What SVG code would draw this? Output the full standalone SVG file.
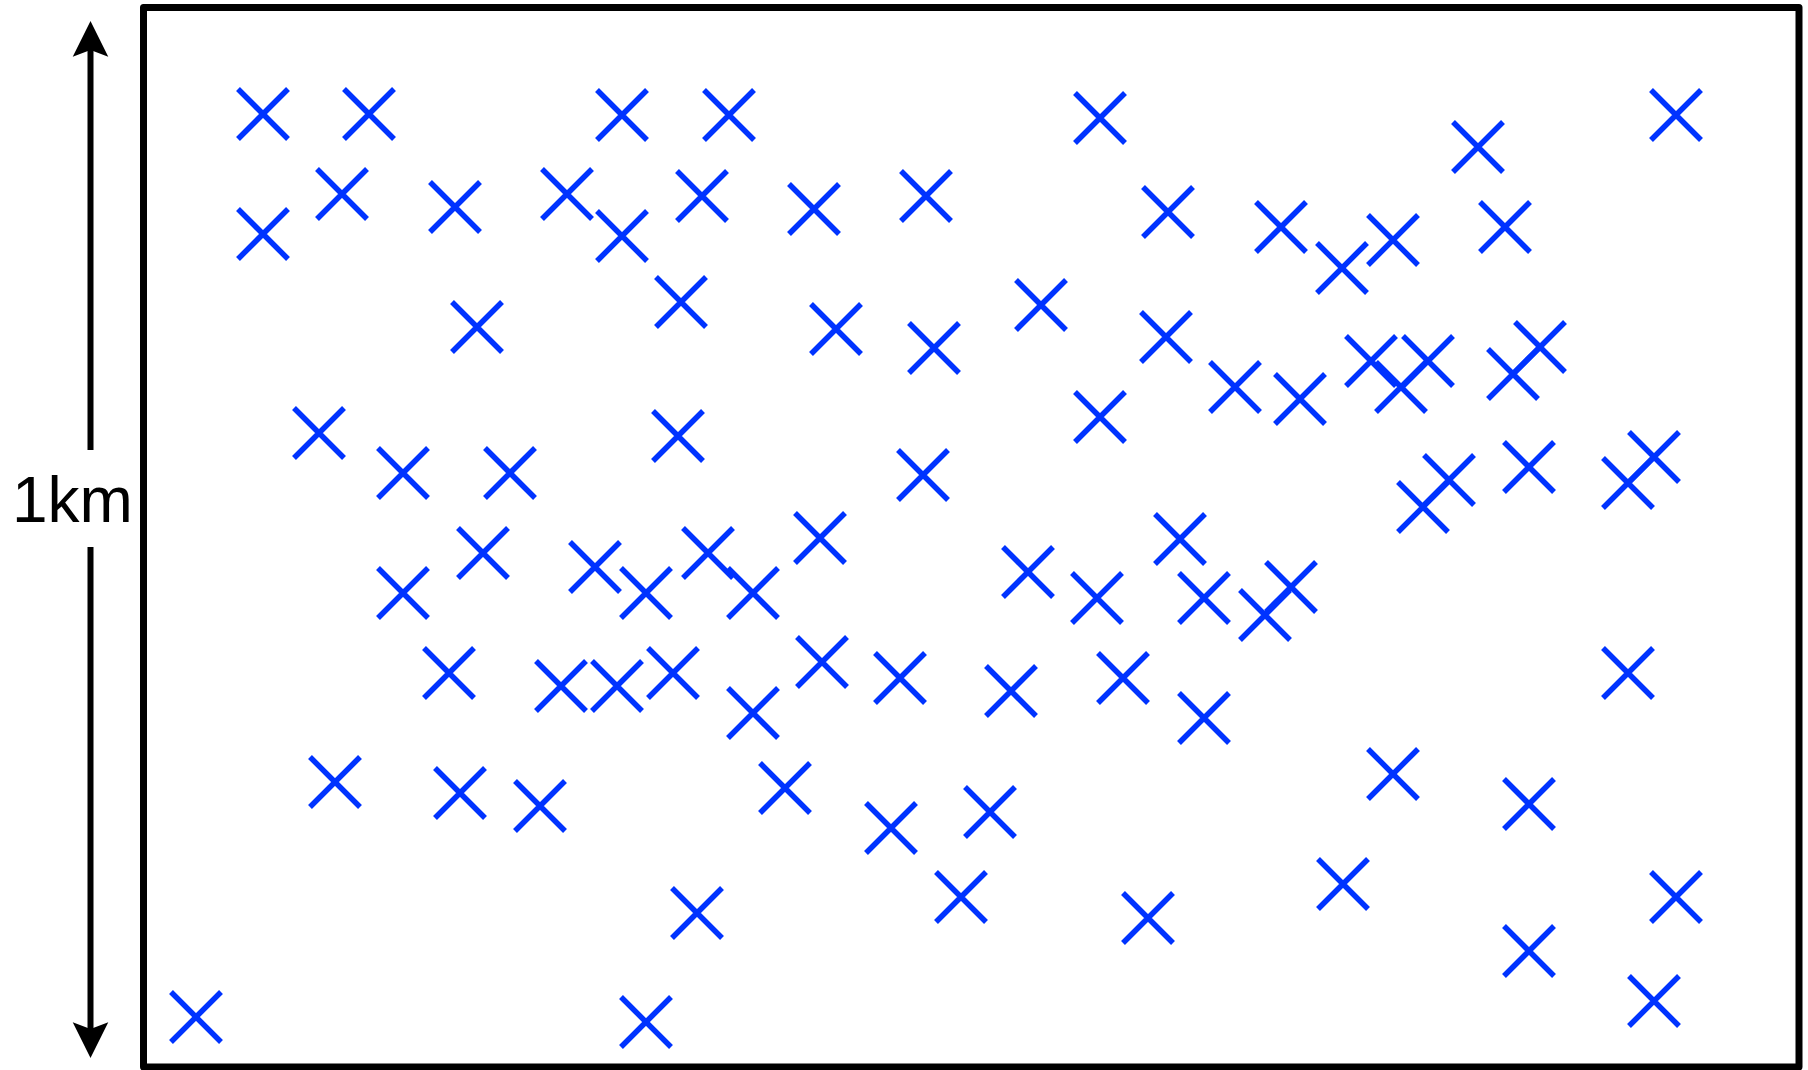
<svg xmlns="http://www.w3.org/2000/svg" xmlns:xlink="http://www.w3.org/1999/xlink" width="1808" height="1070" viewBox="0 0 1808 1070">
<style>
.frame{fill:none;stroke:#000;stroke-width:7;stroke-linejoin:round}
.dim{stroke:#000;stroke-width:6;fill:none}
.cross{stroke:#0033FF;stroke-width:5.5;fill:none}
.lbl{font-family:"Liberation Sans",Arial,sans-serif;font-size:64px;fill:#000}
</style>
<defs>
<marker id="head" markerUnits="userSpaceOnUse" markerWidth="40" markerHeight="40" viewBox="-2 -18 36 36" refX="6" refY="0" orient="auto" overflow="visible">
<path d="M32,0 L0,-16 L6,0 L0,16 Z" fill="#000"/>
</marker>
<path id="cross" class="cross" d="M-25,-25 L25,25 M-25,25 L25,-25"/>
</defs>
<rect width="1808" height="1070" fill="#fff"/>
<g id="area"><rect class="frame" x="143.5" y="7.5" width="1655.5" height="1059.5"/></g>
<g id="connectors">
<line class="dim" x1="90.5" y1="450" x2="90.5" y2="50" marker-end="url(#head)"/>
<line class="dim" x1="90.5" y1="547" x2="90.5" y2="1029" marker-end="url(#head)"/>
</g>
<g id="label"><text class="lbl" x="12" y="522">1km</text></g>
<g id="points">
<g id="m01"><use href="#cross" x="263" y="114"/></g>
<g id="m02"><use href="#cross" x="369" y="114"/></g>
<g id="m03"><use href="#cross" x="622" y="115"/></g>
<g id="m04"><use href="#cross" x="729" y="115"/></g>
<g id="m05"><use href="#cross" x="1100" y="118"/></g>
<g id="m06"><use href="#cross" x="1676" y="115"/></g>
<g id="m07"><use href="#cross" x="1478" y="147"/></g>
<g id="m08"><use href="#cross" x="342" y="194"/></g>
<g id="m09"><use href="#cross" x="263" y="234"/></g>
<g id="m10"><use href="#cross" x="455" y="207"/></g>
<g id="m11"><use href="#cross" x="567" y="194"/></g>
<g id="m12"><use href="#cross" x="622" y="236"/></g>
<g id="m13"><use href="#cross" x="702" y="196"/></g>
<g id="m14"><use href="#cross" x="814" y="209"/></g>
<g id="m15"><use href="#cross" x="926" y="196"/></g>
<g id="m16"><use href="#cross" x="1168" y="212"/></g>
<g id="m17"><use href="#cross" x="1281" y="227"/></g>
<g id="m18"><use href="#cross" x="1342" y="268"/></g>
<g id="m19"><use href="#cross" x="1393" y="240"/></g>
<g id="m20"><use href="#cross" x="1505" y="227"/></g>
<g id="m21"><use href="#cross" x="477" y="327"/></g>
<g id="m22"><use href="#cross" x="681" y="302"/></g>
<g id="m23"><use href="#cross" x="836" y="329"/></g>
<g id="m24"><use href="#cross" x="934" y="348"/></g>
<g id="m25"><use href="#cross" x="1041" y="305"/></g>
<g id="m26"><use href="#cross" x="1166" y="337"/></g>
<g id="m27"><use href="#cross" x="1235" y="387"/></g>
<g id="m28"><use href="#cross" x="1300" y="399"/></g>
<g id="m29"><use href="#cross" x="1371" y="361"/></g>
<g id="m30"><use href="#cross" x="1428" y="361"/></g>
<g id="m31"><use href="#cross" x="1401" y="387"/></g>
<g id="m32"><use href="#cross" x="1540" y="347"/></g>
<g id="m33"><use href="#cross" x="1513" y="374"/></g>
<g id="m34"><use href="#cross" x="1100" y="417"/></g>
<g id="m35"><use href="#cross" x="319" y="433"/></g>
<g id="m36"><use href="#cross" x="678" y="436"/></g>
<g id="m37"><use href="#cross" x="403" y="473"/></g>
<g id="m38"><use href="#cross" x="510" y="473"/></g>
<g id="m39"><use href="#cross" x="923" y="475"/></g>
<g id="m40"><use href="#cross" x="1529" y="467"/></g>
<g id="m41"><use href="#cross" x="1449" y="480"/></g>
<g id="m42"><use href="#cross" x="1423" y="507"/></g>
<g id="m43"><use href="#cross" x="1654" y="457"/></g>
<g id="m44"><use href="#cross" x="1628" y="483"/></g>
<g id="m45"><use href="#cross" x="483" y="553"/></g>
<g id="m46"><use href="#cross" x="403" y="593"/></g>
<g id="m47"><use href="#cross" x="595" y="567"/></g>
<g id="m48"><use href="#cross" x="646" y="593"/></g>
<g id="m49"><use href="#cross" x="708" y="553"/></g>
<g id="m50"><use href="#cross" x="753" y="593"/></g>
<g id="m51"><use href="#cross" x="820" y="538"/></g>
<g id="m52"><use href="#cross" x="1028" y="572"/></g>
<g id="m53"><use href="#cross" x="1180" y="539"/></g>
<g id="m54"><use href="#cross" x="1097" y="598"/></g>
<g id="m55"><use href="#cross" x="1204" y="598"/></g>
<g id="m56"><use href="#cross" x="1291" y="587"/></g>
<g id="m57"><use href="#cross" x="1265" y="615"/></g>
<g id="m58"><use href="#cross" x="449" y="673"/></g>
<g id="m59"><use href="#cross" x="561" y="686"/></g>
<g id="m60"><use href="#cross" x="617" y="686"/></g>
<g id="m61"><use href="#cross" x="673" y="673"/></g>
<g id="m62"><use href="#cross" x="753" y="713"/></g>
<g id="m63"><use href="#cross" x="822" y="662"/></g>
<g id="m64"><use href="#cross" x="900" y="678"/></g>
<g id="m65"><use href="#cross" x="1011" y="691"/></g>
<g id="m66"><use href="#cross" x="1123" y="678"/></g>
<g id="m67"><use href="#cross" x="1204" y="718"/></g>
<g id="m68"><use href="#cross" x="1628" y="673"/></g>
<g id="m69"><use href="#cross" x="335" y="782"/></g>
<g id="m70"><use href="#cross" x="460" y="793"/></g>
<g id="m71"><use href="#cross" x="540" y="806"/></g>
<g id="m72"><use href="#cross" x="785" y="788"/></g>
<g id="m73"><use href="#cross" x="891" y="828"/></g>
<g id="m74"><use href="#cross" x="990" y="812"/></g>
<g id="m75"><use href="#cross" x="1393" y="774"/></g>
<g id="m76"><use href="#cross" x="1529" y="804"/></g>
<g id="m77"><use href="#cross" x="697" y="913"/></g>
<g id="m78"><use href="#cross" x="961" y="897"/></g>
<g id="m79"><use href="#cross" x="1148" y="918"/></g>
<g id="m80"><use href="#cross" x="1343" y="884"/></g>
<g id="m81"><use href="#cross" x="1676" y="897"/></g>
<g id="m82"><use href="#cross" x="1529" y="951"/></g>
<g id="m83"><use href="#cross" x="196" y="1017"/></g>
<g id="m84"><use href="#cross" x="646" y="1022"/></g>
<g id="m85"><use href="#cross" x="1654" y="1001"/></g>
</g>
</svg>
